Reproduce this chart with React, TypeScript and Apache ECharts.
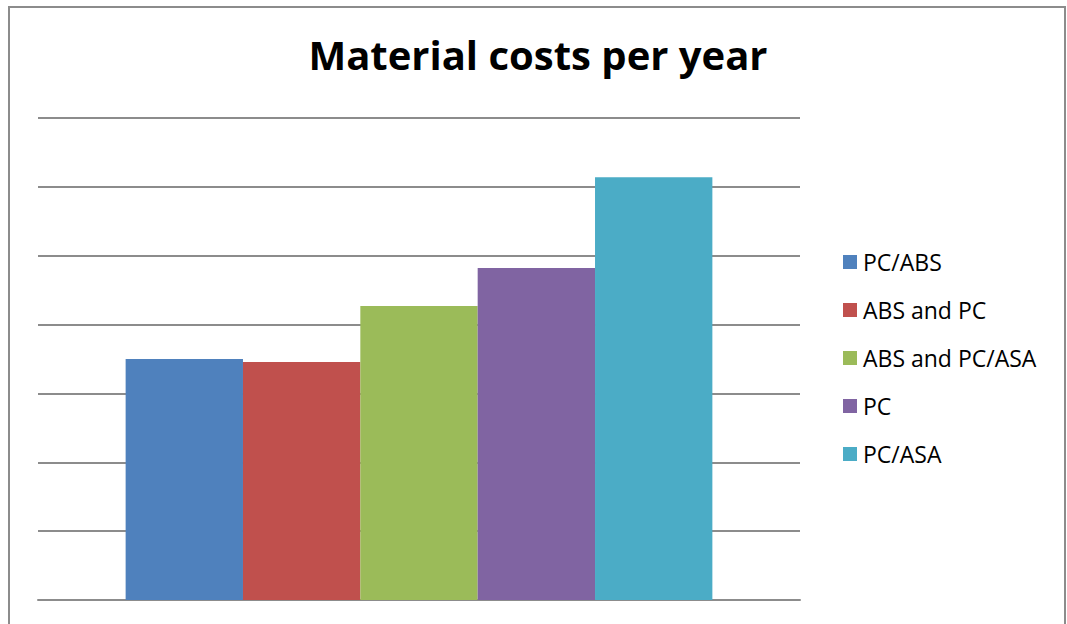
import React, { useEffect, useRef } from "react";
import * as echarts from "echarts";

const categories = ["Material costs"];
const seriesNames = ["PC/ABS", "ABS and PC", "ABS and PC/ASA", "PC", "PC/ASA"];
const seriesValues = [3.5, 3.455, 4.27, 4.82, 6.14];
const colors = ["#4F81BD", "#C0504D", "#9BBB59", "#8064A2", "#4BACC6"];

export default function App() {
  const ref = useRef<HTMLDivElement>(null);
  useEffect(() => {
    document.body.style.margin = "0";
    const chart = echarts.init(ref.current!, null, { renderer: "svg" });
    chart.setOption({
      animation: false,
      backgroundColor: "#ffffff",
      title: {
        text: "Material costs per year",
        left: 538,
        textAlign: "center",
        top: 34,
        padding: 0,
        textStyle: { fontFamily: "Open Sans", fontWeight: "bold", fontSize: 40, color: "#000" },
      },
      graphic: [
        {
          type: "rect",
          shape: { x: 9, y: 7, width: 1056, height: 640 },
          style: { fill: "none", stroke: "#8c8c8c", lineWidth: 2 },
          silent: true,
        },
      ],
      legend: {
        orient: "vertical",
        left: 843,
        top: 250,
        padding: 0,
        itemWidth: 14,
        itemHeight: 14,
        itemGap: 24,
        icon: "rect",
        textStyle: { fontFamily: "Open Sans", fontSize: 23, color: "#000", lineHeight: 24, padding: [0, 0, 0, 1] },
        data: seriesNames,
      },
      grid: { left: 38, right: 267, top: 118, bottom: 24 },
      xAxis: {
        type: "category",
        data: categories,
        axisLine: { show: true, lineStyle: { color: "#8c8c8c", width: 2 } },
        axisTick: { show: false },
        axisLabel: { show: false },
      },
      yAxis: {
        type: "value",
        min: 0,
        max: 7,
        interval: 1,
        axisLabel: { show: false },
        axisLine: { show: false },
        axisTick: { show: false },
        splitLine: { lineStyle: { color: "#8c8c8c", width: 2 } },
      },
      series: seriesNames.map((name, i) => ({
        name,
        type: "bar",
        data: [seriesValues[i]],
        itemStyle: { color: colors[i] },
        barGap: "0%",
        barCategoryGap: "23%",
      })),
    });
    return () => chart.dispose();
  }, []);
  return <div ref={ref} style={{ width: 1067, height: 624 }} />;
}
